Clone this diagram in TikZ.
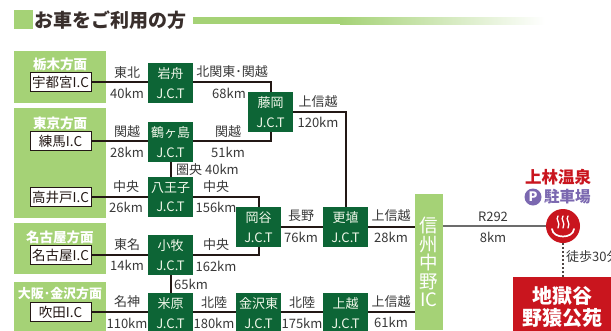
\documentclass[tikz,border=0pt]{standalone}
\usepackage{fontspec}
\setmainfont{Noto Sans CJK JP}
\definecolor{lgreen}{HTML}{A5D276}
\definecolor{dgreen}{HTML}{0D6536}
\definecolor{myred}{HTML}{C9151E}
\definecolor{mypurple}{HTML}{7B68B0}
\definecolor{ink}{HTML}{231815}
\definecolor{labelc}{HTML}{383838}
\newcommand{\fsz}[1]{\fontsize{#1}{#1}\selectfont}
\tikzset{
  jct/.style={fill=dgreen,text=white!85!lgreen,minimum width=45pt,minimum height=40pt,inner sep=0pt,align=center,font=\fsz{13},execute at begin node={\baselineskip=19.5pt}},
  region/.style={fill=lgreen,minimum width=92pt,inner sep=0pt},
  regionlabel/.style={text=white,font=\fsz{13.5}\bfseries,inner sep=0pt},
  icbox/.style={fill=white,draw=ink,line width=1pt,minimum width=61pt,minimum height=18.5pt,inner sep=0pt,font=\fsz{13.5},text=ink},
  road/.style={draw=ink,line width=2pt},
  lbl/.style={text=labelc,font=\fsz{13},inner sep=0pt},
  lblw/.style={lbl,anchor=west}
}
\begin{document}
\begin{tikzpicture}[x=1pt,y=-1pt]
\useasboundingbox (0,0) rectangle (611,330);
\clip (0,0) rectangle (611,330);
% title
\fill[lgreen] (14,10) rectangle (33,29);
\node[anchor=west,inner sep=0pt,text=ink!90,font=\fsz{19}\bfseries] (title) at (34,20) {お車をご利用の方};
\fill[lgreen] (193,17) rectangle (340,24);
\shade[left color=lgreen,right color=white,shading angle=90] (340,17) rectangle (545,24);
% regions
\node[region,minimum height=52pt] (r1) at (60,77) {};
\node[region,minimum height=110pt] (r2) at (60,163) {};
\node[region,minimum height=51pt] (r3) at (60,248.5) {};
\node[region,minimum height=50pt] (r4) at (60,307) {};
\node[regionlabel] (l1) at (60,64) {栃木方面};
\node[regionlabel] (l2) at (60,123) {東京方面};
\node[regionlabel] (l3) at (60,237) {名古屋方面};
\node[regionlabel,font=\fsz{13}\bfseries] (l4) at (60,294) {大阪･金沢方面};
\node[icbox] (utsunomiya) at (60.5,82) {宇都宮I.C};
\node[icbox] (nerima) at (60.5,141) {練馬I.C};
\node[icbox] (takaido) at (60.5,197) {高井戸I.C};
\node[icbox] (nagoya) at (60.5,255) {名古屋I.C};
\node[icbox] (suita) at (60.5,312) {吹田I.C};
% junctions
\node[jct] (iwafune) at (170.5,83) {岩舟\\J.C.T};
\node[jct] (tsurugashima) at (170.5,142) {鶴ヶ島\\J.C.T};
\node[jct] (hachioji) at (170.5,197) {八王子\\J.C.T};
\node[jct] (komaki) at (170.5,255) {小牧\\J.C.T};
\node[jct] (maibara) at (170.5,313) {米原\\J.C.T};
\node[jct] (fujioka) at (270.5,112) {藤岡\\J.C.T};
\node[jct] (okaya) at (258.5,227) {岡谷\\J.C.T};
\node[jct] (kanazawa) at (258.5,313) {金沢東\\J.C.T};
\node[jct] (koshoku) at (345.5,227) {更埴\\J.C.T};
\node[jct] (joetsu) at (345.5,313) {上越\\J.C.T};
\node[fill=lgreen,text=white,minimum width=28pt,minimum height=136pt,inner sep=0pt,align=center,font=\fsz{18.5},execute at begin node={\baselineskip=18.5pt}] (ic) at (429,262) {信\\州\\中\\野\\IC};
% onsen
\node[circle,fill=myred,minimum size=34pt,inner sep=0pt] (onsen) at (563,226) {};
\draw[white,line width=1.7pt,line cap=round] (552,229) .. controls (553,239) and (573,239) .. (574,229);
\foreach \dx in {-5,0,5}{
  \draw[white,line width=1.3pt,line cap=round] (563+\dx,216) .. controls (563+\dx-3,220) and (563+\dx+3,222) .. (563+\dx,228);
}
\node[fill=myred,text=white,minimum width=98pt,minimum height=60pt,inner sep=0pt,align=center,font=\fsz{20}\bfseries,execute at begin node={\baselineskip=22.5pt}] (park) at (562,307) {地獄谷\\野猿公苑};
\node[text=myred,font=\fsz{16.5}\bfseries,inner sep=0pt] (kambayashi) at (558,177) {上林温泉};
\node[circle,fill=mypurple,text=white,minimum size=17pt,inner sep=0pt,font=\fsz{13}\bfseries] (pmark) at (533,197) {P};
\node[anchor=west,text=mypurple,font=\fsz{15.5}\bfseries,inner sep=0pt] (parking) at (544,197) {駐車場};
% connectors
\draw[road] (utsunomiya.east) -- (iwafune.west |- utsunomiya.east);
\draw[road] (nerima.east) -- (tsurugashima.west |- nerima.east);
\draw[road] (takaido.east) -- (hachioji.west);
\draw[road] (nagoya.east) -- (komaki.west);
\draw[road] (suita.east) -- (maibara.west |- suita.east);
\draw[road] (iwafune.east |- utsunomiya.east) -| (fujioka.north);
\draw[road] (tsurugashima.east |- nerima.east) -| (fujioka.south);
\draw[road] (tsurugashima.south) -- (hachioji.north);
\draw[road] (fujioka.east) -| (koshoku.north);
\draw[road] (hachioji.east) -| (okaya.north);
\draw[road] (komaki.east) -| (okaya.south);
\draw[road] (komaki.south) -- (maibara.north);
\draw[road] (okaya.east) -- (koshoku.west);
\draw[road] (maibara.east |- suita.east) -- (kanazawa.west |- suita.east);
\draw[road] (kanazawa.east |- suita.east) -- (joetsu.west |- suita.east);
\draw[road] (koshoku.east) -- (ic.west |- koshoku.east);
\draw[road] (joetsu.east |- suita.east) -- (ic.west |- suita.east);
\draw[draw=gray!85!black,line width=2pt] (ic.east |- onsen.west) -- (onsen.west);
\draw[draw=ink!80,line width=2pt,dotted] (onsen.south) -- (onsen.south |- park.north);
% labels
\node[lbl] at (127,73) {東北};
\node[lbl] at (127,93) {40km};
\node[lbl] at (232,72) {北関東･関越};
\node[lbl] at (229,93) {68km};
\node[lbl] at (127,132) {関越};
\node[lbl] at (127,152) {28km};
\node[lbl] at (228,132) {関越};
\node[lbl] at (228,152) {51km};
\node[lbl] at (318,102) {上信越};
\node[lbl] at (318,122) {120km};
\node[lblw] at (176,170) {圏央 40km};
\node[lbl] at (126,187) {中央};
\node[lbl] at (126,207) {26km};
\node[lbl] at (216,187) {中央};
\node[lbl] at (216,207) {156km};
\node[lbl] at (301,216) {長野};
\node[lbl] at (301,237) {76km};
\node[lbl] at (127,245) {東名};
\node[lbl] at (127,265) {14km};
\node[lbl] at (216,245) {中央};
\node[lbl] at (216,266) {162km};
\node[lblw] at (174,284) {65km};
\node[lbl] at (127,302) {名神};
\node[lbl] at (127,323) {110km};
\node[lbl] at (214,303) {北陸};
\node[lbl] at (214,323) {180km};
\node[lbl] at (302,303) {北陸};
\node[lbl] at (302,323) {175km};
\node[lbl] at (391,216) {上信越};
\node[lbl] at (391,237) {28km};
\node[lbl] at (391,302) {上信越};
\node[lbl] at (391,322) {61km};
\node[lbl] at (493,217) {R292};
\node[lbl] at (493,237) {8km};
\node[lblw] at (566,257) {徒歩30分};
\end{tikzpicture}
\end{document}
